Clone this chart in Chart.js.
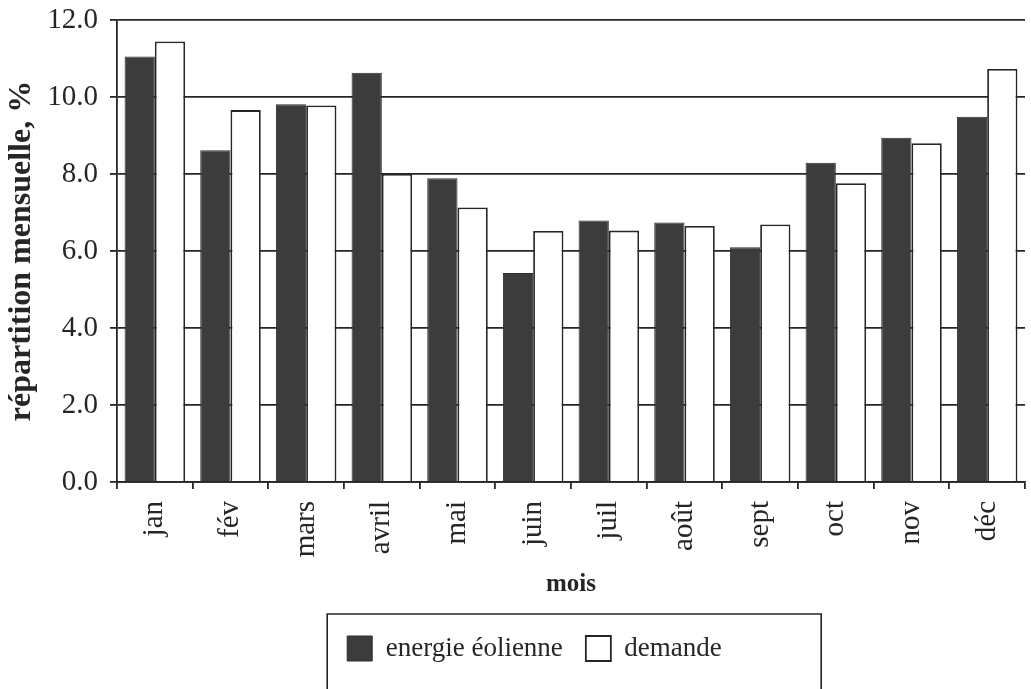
<!DOCTYPE html>
<html lang="fr">
<head>
<meta charset="utf-8">
<title>Répartition mensuelle</title>
<script src="https://cdn.jsdelivr.net/npm/chart.js@4.4.1/dist/chart.umd.min.js"></script>
<style>
  html, body { margin: 0; padding: 0; background: #ffffff; }
  #wrap { width: 1031px; height: 689px; position: relative; }
</style>
</head>
<body>
<div id="wrap"><canvas id="chart" width="1031" height="689"></canvas></div>
<script>
// Monthly distribution (%) of wind energy versus demand
const months = ['jan', 'fév', 'mars', 'avril', 'mai', 'juin', 'juil', 'août', 'sept', 'oct', 'nov', 'déc'];
const eolienne = [11.05, 8.62, 9.81, 10.63, 7.89, 5.43, 6.79, 6.74, 6.10, 8.29, 8.94, 9.49];
const demande  = [11.44, 9.66, 9.78, 8.00, 7.13, 6.52, 6.53, 6.65, 6.69, 7.76, 8.80, 10.73];
const yTicks   = [0, 2, 4, 6, 8, 10, 12];

const INK = '#262626';
const SERIF = '"Liberation Serif", "DejaVu Serif", "Times New Roman", serif';

// Moves the legend row sideways and frames it with an open-bottom box
const legendFrame = {
  id: 'legendFrame',
  afterLayout(chart) {
    const lg = chart.legend;
    const dx = 22;
    lg.left += dx;
    lg.right += dx;
  },
  afterDraw(chart) {
    const boxes = chart.legend && chart.legend.legendHitBoxes;
    if (!boxes || !boxes.length) return;
    const first = boxes[0];
    const ctx = chart.ctx;
    const left = first.left - 20;
    const right = left + 494;
    const top = first.top - 21;
    ctx.save();
    ctx.strokeStyle = INK;
    ctx.lineWidth = 1.6;
    ctx.beginPath();
    ctx.moveTo(left, chart.height + 5);
    ctx.lineTo(left, top);
    ctx.lineTo(right, top);
    ctx.lineTo(right, chart.height + 5);
    ctx.stroke();
    ctx.restore();
  }
};

new Chart(document.getElementById('chart'), {
  type: 'bar',
  data: {
    labels: months,
    datasets: [
      {
        label: 'energie éolienne',
        data: eolienne,
        backgroundColor: '#3c3c3c',
        borderColor: '#2e2e2e',
        borderWidth: 1
      },
      {
        label: 'demande',
        data: demande,
        backgroundColor: '#ffffff',
        borderColor: INK,
        borderWidth: 1.8
      }
    ]
  },
  options: {
    responsive: false,
    animation: false,
    devicePixelRatio: 1,
    datasets: {
      bar: { categoryPercentage: 0.8, barPercentage: 1.0 }
    },
    layout: { padding: { top: 20, right: 6, bottom: 17, left: 0 } },
    plugins: {
      tooltip: { enabled: false },
      legend: {
        position: 'bottom',
        align: 'center',
        labels: {
          boxWidth: 25,
          boxHeight: 25,
          padding: 23,
          color: INK,
          font: { family: SERIF, size: 27 }
        }
      }
    },
    scales: {
      x: {
        grid: {
          display: true,
          drawOnChartArea: false,
          offset: true,
          tickLength: 7,
          color: INK,
          lineWidth: 1.8
        },
        border: { display: true, color: INK, width: 1.8 },
        ticks: {
          autoSkip: false,
          minRotation: 90,
          maxRotation: 90,
          padding: 12,
          color: INK,
          font: { family: SERIF, size: 29 }
        },
        title: {
          display: true,
          text: 'mois',
          color: INK,
          padding: { top: 0, bottom: 12 },
          font: { family: SERIF, size: 25, weight: 'bold' }
        },
        afterFit(scale) {
          scale.height = 130;
          scale.paddingLeft = 0;
          scale.paddingRight = 0;
        }
      },
      y: {
        min: 0,
        max: 12,
        afterBuildTicks(scale) { scale.ticks = yTicks.map(v => ({ value: v })); },
        grid: {
          color: INK,
          lineWidth: 1.8,
          tickLength: 7
        },
        border: { display: true, color: INK, width: 1.8 },
        ticks: {
          padding: 12,
          color: INK,
          font: { family: SERIF, size: 29 },
          callback: v => Number(v).toFixed(1)
        },
        title: {
          display: true,
          text: 'répartition mensuelle, %',
          color: INK,
          padding: { top: 3, bottom: 0 },
          font: { family: SERIF, size: 32, weight: 'bold' }
        },
        afterFit(scale) {
          scale.width = 117;
          scale.paddingTop = 0;
          scale.paddingBottom = 0;
        }
      }
    }
  },
  plugins: [legendFrame]
});
</script>
</body>
</html>
